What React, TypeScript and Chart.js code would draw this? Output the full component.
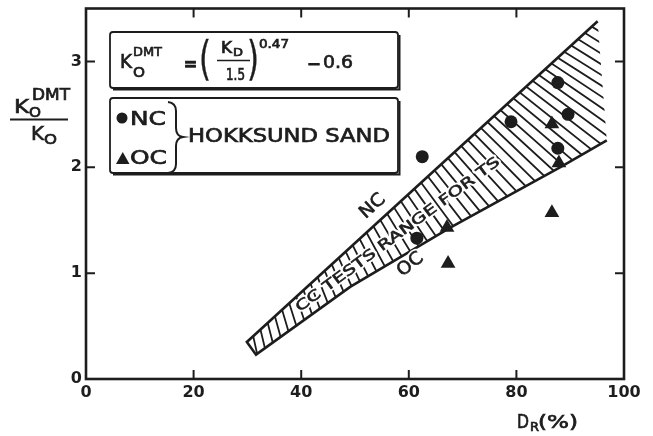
import { useEffect, useRef } from 'react';
import { Chart, registerables } from 'chart.js';

Chart.register(...registerables);

// Axis ticks
const X_TICKS = [0, 20, 40, 60, 80, 100];
const Y_TICKS = [0, 1, 2, 3];

// Hokksund sand, normally consolidated (circles)
const NC_X = [62.5, 87.7, 79.0, 89.6, 87.7, 61.5];
const NC_Y = [2.10, 2.80, 2.43, 2.50, 2.18, 1.33];

// Hokksund sand, overconsolidated (triangles)
const OC_X = [67.3, 67.1, 86.6, 87.9, 86.6];
const OC_Y = [1.09, 1.43, 2.41, 2.04, 1.57];

// CC tests range for TS: upper (NC) and lower (OC) boundaries
const NC_EDGE_X = [29.9, 95.1];
const NC_EDGE_Y = [0.35, 3.38];
const OC_EDGE_X = [31.6, 49.1, 67.7, 88.1, 96.8];
const OC_EDGE_Y = [0.23, 0.87, 1.43, 2.0, 2.255];

const FONT = '"DejaVu Sans", "Liberation Sans", sans-serif';
const INK = '#1d1d1d';

type Ctx = CanvasRenderingContext2D;

function txt(ctx: Ctx, s: string, x: number, y: number, size: number, width?: number, heavy = 0.7) {
  ctx.save();
  ctx.font = `${size}px ${FONT}`;
  ctx.textAlign = 'left';
  ctx.textBaseline = 'alphabetic';
  ctx.fillStyle = INK;
  ctx.strokeStyle = INK;
  ctx.translate(x, y);
  if (width) {
    const w = ctx.measureText(s).width;
    ctx.scale(width / w, 1);
  }
  ctx.fillText(s, 0, 0);
  if (heavy > 0) {
    ctx.lineWidth = heavy;
    ctx.strokeText(s, 0, 0);
  }
  ctx.restore();
}

function rtxt(ctx: Ctx, s: string, cx: number, cy: number, size: number, deg: number, width?: number) {
  ctx.save();
  ctx.font = `${size}px ${FONT}`;
  ctx.textAlign = 'center';
  ctx.textBaseline = 'middle';
  ctx.translate(cx, cy);
  ctx.rotate((deg * Math.PI) / 180);
  if (width) {
    const w = ctx.measureText(s).width;
    ctx.scale(width / w, 1);
  }
  ctx.strokeStyle = '#ffffff';
  ctx.lineWidth = 4;
  ctx.lineJoin = 'round';
  ctx.strokeText(s, 0, 0);
  ctx.fillStyle = INK;
  ctx.fillText(s, 0, 0);
  ctx.strokeStyle = INK;
  ctx.lineWidth = 0.6;
  ctx.strokeText(s, 0, 0);
  ctx.restore();
}

function box(ctx: Ctx, x: number, y: number, w: number, h: number) {
  ctx.save();
  ctx.strokeStyle = INK;
  ctx.lineWidth = 1.8;
  ctx.beginPath();
  ctx.roundRect(x, y, w, h, 3);
  ctx.stroke();
  // heavier right / bottom edges
  ctx.lineWidth = 2;
  ctx.beginPath();
  ctx.moveTo(x + w + 1.5, y + 3);
  ctx.lineTo(x + w + 1.5, y + h + 1.5);
  ctx.lineTo(x + 3, y + h + 1.5);
  ctx.stroke();
  ctx.restore();
}

const hatchPlugin = {
  id: 'bandHatch',
  beforeDatasetsDraw(chart: any) {
    const { ctx, scales } = chart;
    const sx = scales.x, sy = scales.y;
    const up = NC_EDGE_X.map((x, i) => [sx.getPixelForValue(x), sy.getPixelForValue(NC_EDGE_Y[i])]);
    const lo = OC_EDGE_X.map((x, i) => [sx.getPixelForValue(x), sy.getPixelForValue(OC_EDGE_Y[i])]);
    ctx.save();
    ctx.beginPath();
    ctx.moveTo(up[0][0], up[0][1]);
    for (let i = 1; i < up.length; i++) ctx.lineTo(up[i][0], up[i][1]);
    for (let i = lo.length - 1; i >= 0; i--) ctx.lineTo(lo[i][0], lo[i][1]);
    ctx.closePath();
    ctx.clip();
    const a = [(up[0][0] + lo[0][0]) / 2, (up[0][1] + lo[0][1]) / 2];
    const b = [(up[up.length - 1][0] + lo[lo.length - 1][0]) / 2, (up[up.length - 1][1] + lo[lo.length - 1][1]) / 2];
    const N = 46;
    ctx.strokeStyle = INK;
    ctx.lineWidth = 1.8;
    ctx.beginPath();
    for (let i = -4; i <= N + 4; i++) {
      const t = (i + 0.5) / N;
      const cx = a[0] + (b[0] - a[0]) * t;
      const cy = a[1] + (b[1] - a[1]) * t;
      const ang = ((78 + (32 - 78) * Math.min(Math.max(t, 0), 1)) * Math.PI) / 180;
      const dx = Math.cos(ang), dy = Math.sin(ang);
      ctx.moveTo(cx - 160 * dx, cy - 160 * dy);
      ctx.lineTo(cx + 160 * dx, cy + 160 * dy);
    }
    ctx.stroke();
    ctx.restore();
  },
  afterDatasetsDraw(chart: any) {
    const { ctx, scales } = chart;
    const px = (x: number) => scales.x.getPixelForValue(x);
    const py = (y: number) => scales.y.getPixelForValue(y);
    rtxt(ctx, 'NC', px(53.3), py(1.63), 18, -42, 28);
    rtxt(ctx, 'OC', px(60.3), py(1.08), 18, -38, 28);
    rtxt(ctx, 'CC TESTS RANGE FOR TS', px(58.0), py(1.36), 14, -36.5, 250);
  },
};

const framePlugin = {
  id: 'frameAndNotes',
  afterDraw(chart: any) {
    const { ctx, chartArea: ca, scales } = chart;
    ctx.save();
    ctx.strokeStyle = INK;
    ctx.lineWidth = 2.6;
    ctx.strokeRect(ca.left, ca.top, ca.right - ca.left, ca.bottom - ca.top);
    ctx.lineWidth = 2;
    ctx.beginPath();
    const L = 9;
    for (const v of X_TICKS.slice(1, -1)) {
      const x = scales.x.getPixelForValue(v);
      ctx.moveTo(x, ca.bottom);
      ctx.lineTo(x, ca.bottom - L);
      ctx.moveTo(x, ca.top);
      ctx.lineTo(x, ca.top + L);
    }
    for (const v of Y_TICKS.slice(1)) {
      const y = scales.y.getPixelForValue(v);
      ctx.moveTo(ca.left, y);
      ctx.lineTo(ca.left + L, y);
      ctx.moveTo(ca.right, y);
      ctx.lineTo(ca.right - L, y);
    }
    ctx.stroke();
    ctx.restore();

    // Formula box
    box(ctx, 110, 32, 288, 56);
    txt(ctx, 'K', 120, 68, 19, 12);
    txt(ctx, 'DMT', 133, 56, 13, 29);
    txt(ctx, 'O', 133, 77, 14, 12);
    txt(ctx, '=', 184, 70, 20, 13, 1.5);
    txt(ctx, '(', 199, 74, 46, 12, 0.4);
    txt(ctx, 'K', 221, 53, 15, 11);
    txt(ctx, 'D', 233, 56, 11, 10);
    ctx.save();
    ctx.strokeStyle = INK;
    ctx.lineWidth = 1.5;
    ctx.beginPath();
    ctx.moveTo(217, 60.5);
    ctx.lineTo(250, 60.5);
    ctx.stroke();
    ctx.restore();
    txt(ctx, '1.5', 226, 80, 15, 19);
    txt(ctx, ')', 247, 74, 46, 12, 0.4);
    txt(ctx, '0.47', 259, 48, 12, 30);
    txt(ctx, '\u2212', 307, 70, 18, 14, 1);
    txt(ctx, '0.6', 323, 68, 18, 30);

    // Legend box
    box(ctx, 110, 98, 288, 75);
    ctx.save();
    ctx.fillStyle = INK;
    ctx.beginPath();
    ctx.arc(122, 118, 5.5, 0, Math.PI * 2);
    ctx.fill();
    ctx.beginPath();
    ctx.moveTo(116, 164);
    ctx.lineTo(129.5, 164);
    ctx.lineTo(122.75, 152);
    ctx.closePath();
    ctx.fill();
    ctx.restore();
    txt(ctx, 'NC', 130, 125, 19, 36);
    txt(ctx, 'OC', 130, 164, 19, 37);
    ctx.save();
    ctx.strokeStyle = INK;
    ctx.lineWidth = 2;
    ctx.beginPath();
    ctx.moveTo(168, 102);
    ctx.quadraticCurveTo(176, 103, 176, 111);
    ctx.lineTo(176, 128);
    ctx.quadraticCurveTo(176, 136, 183, 137);
    ctx.quadraticCurveTo(176, 138, 176, 146);
    ctx.lineTo(176, 164);
    ctx.quadraticCurveTo(176, 172, 168, 173);
    ctx.stroke();
    ctx.restore();
    txt(ctx, 'HOKKSUND SAND', 188, 142, 19, 202);

    // Y axis title: K_o^DMT / K_o
    txt(ctx, 'K', 14, 113, 20, 15);
    txt(ctx, 'O', 29, 117, 14, 12);
    txt(ctx, 'DMT', 32, 100, 15, 38);
    ctx.save();
    ctx.strokeStyle = INK;
    ctx.lineWidth = 2;
    ctx.beginPath();
    ctx.moveTo(10, 119.5);
    ctx.lineTo(68, 119.5);
    ctx.stroke();
    ctx.restore();
    txt(ctx, 'K', 31, 140, 20, 13);
    txt(ctx, 'O', 44, 144, 14, 13);

    // X axis title: D_R (%)
    txt(ctx, 'D', 517, 428, 19, 12);
    txt(ctx, 'R', 530, 431, 12, 9);
    txt(ctx, '(%)', 538, 428, 18, 40);
  },
};

export default function App() {
  const ref = useRef<HTMLCanvasElement | null>(null);

  useEffect(() => {
    const canvas = ref.current;
    if (!canvas) return;
    const band = [
      ...NC_EDGE_X.map((x, i) => ({ x, y: NC_EDGE_Y[i] })).reverse(),
      ...OC_EDGE_X.map((x, i) => ({ x, y: OC_EDGE_Y[i] })),
    ];
    const nc = NC_X.map((x, i) => ({ x, y: NC_Y[i] }));
    const oc = OC_X.map((x, i) => ({ x, y: OC_Y[i] }));
    const tickFont = { family: FONT, size: 16, weight: 'bold' as const };

    const chart = new Chart(canvas, {
      type: 'scatter',
      data: {
        datasets: [
          {
            label: 'CC tests range for TS',
            data: band,
            showLine: true,
            borderColor: INK,
            borderWidth: 2.6,
            pointRadius: 0,
            fill: false,
            tension: 0,
          },
          {
            label: 'NC',
            data: nc,
            pointStyle: 'circle',
            pointRadius: 6.5,
            backgroundColor: INK,
            borderColor: INK,
            borderWidth: 0,
          },
          {
            label: 'OC',
            data: oc,
            pointStyle: 'triangle',
            pointRadius: 8.5,
            backgroundColor: INK,
            borderColor: INK,
            borderWidth: 0,
          },
        ],
      },
      options: {
        responsive: false,
        animation: false,
        layout: { padding: { left: 0, top: 8, right: 29, bottom: 0 } },
        plugins: { legend: { display: false }, tooltip: { enabled: false } },
        scales: {
          x: {
            type: 'linear',
            min: 0,
            max: 100,
            grid: { display: false, drawTicks: false },
            border: { display: false },
            ticks: { font: tickFont, color: INK, padding: 4 },
            afterBuildTicks: (s: any) => {
              s.ticks = X_TICKS.map((value) => ({ value }));
            },
            afterFit: (s: any) => {
              s.height = 57;
              s.paddingLeft = 0;
              s.paddingRight = 0;
            },
          },
          y: {
            type: 'linear',
            min: 0,
            max: 3.5,
            grid: { display: false, drawTicks: false },
            border: { display: false },
            ticks: { font: tickFont, color: INK, padding: 4 },
            afterBuildTicks: (s: any) => {
              s.ticks = Y_TICKS.map((value) => ({ value }));
            },
            afterFit: (s: any) => {
              s.width = 86;
              s.paddingTop = 0;
              s.paddingBottom = 0;
            },
          },
        },
      },
      plugins: [hatchPlugin, framePlugin],
    });
    return () => chart.destroy();
  }, []);

  return (
    <div style={{ position: 'fixed', left: 0, top: 0, width: 653, height: 436, background: '#fff' }}>
      <canvas ref={ref} width={653} height={436} />
    </div>
  );
}
